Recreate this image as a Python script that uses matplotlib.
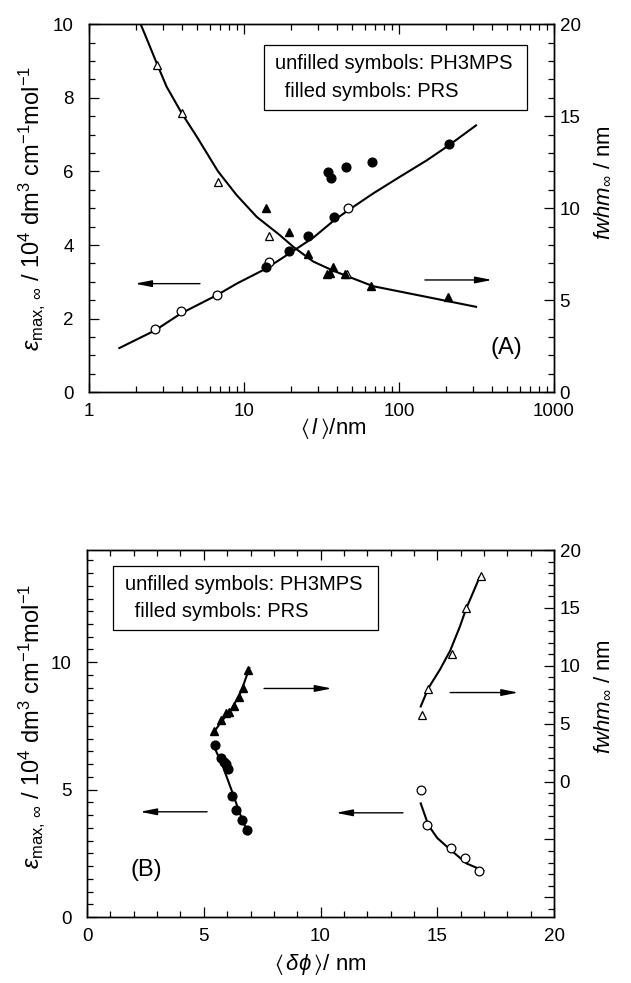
import matplotlib
matplotlib.use("Agg")
import matplotlib.pyplot as plt
from matplotlib.patches import Rectangle
from matplotlib.ticker import MultipleLocator, FixedLocator, NullFormatter, FixedFormatter

plt.rcParams['font.family'] = ['Liberation Sans', 'DejaVu Sans']
plt.rcParams['mathtext.fontset'] = 'custom'
plt.rcParams['mathtext.rm'] = 'Liberation Sans'
plt.rcParams['mathtext.it'] = 'Liberation Sans:italic'
plt.rcParams['mathtext.bf'] = 'Liberation Sans:bold'
plt.rcParams['mathtext.fallback'] = 'stix'

# ---------------- panel A: vs <l> ----------------
# PH3MPS (open symbols)
a_l_open_eps = [2.67, 3.92, 6.7, 14.5, 46.9]
a_eps_open = [1.72, 2.2, 2.65, 3.55, 5.0]
a_l_open_fw = [2.75, 3.98, 6.8, 14.5, 46.2]
a_fw_open = [17.8, 15.2, 11.4, 8.5, 6.4]
# PRS (filled symbols)
a_l_fill_eps = [13.9, 19.5, 25.9, 38.1, 34.8, 36.4, 45.5, 67, 210]
a_eps_fill = [3.4, 3.85, 4.25, 4.75, 5.97, 5.82, 6.12, 6.25, 6.75]
a_l_fill_fw = [13.9, 19.5, 25.9, 34.3, 36.0, 37.5, 44.7, 66, 207]
a_fw_fill = [10.0, 8.7, 7.5, 6.45, 6.5, 6.8, 6.4, 5.75, 5.15]
# fitted curves
a_fit_eps_l = [1.57, 2.67, 3.92, 6.7, 8.97, 13.9, 20.8, 28.0, 38.1, 46.9, 68.1, 101, 151, 210, 314]
a_fit_eps = [1.2, 1.68, 2.14, 2.64, 2.95, 3.36, 3.84, 4.2, 4.67, 4.94, 5.4, 5.85, 6.3, 6.71, 7.25]
a_fit_fw_l = [2.155, 2.36, 2.75, 3.17, 3.98, 4.95, 6.8, 8.97, 12.08, 17.07, 20.8, 28.0, 37.7, 68.1, 150.6, 314]
a_fit_fw = [20.0, 19.2, 17.83, 16.6, 15.14, 13.9, 12.0, 10.71, 9.53, 8.53, 7.9, 7.1, 6.6, 5.76, 5.18, 4.64]
# arrows (tail -> head), left-axis units
a_arrow_left = [(5.2, 2.95), (1.98, 2.95)]
a_arrow_right = [(147, 3.05), (398, 3.05)]

# ---------------- panel B: vs <dphi> ----------------
b_d_open_eps = [14.3, 14.57, 15.57, 16.19, 16.79]
b_eps_open = [4.98, 3.6, 2.7, 2.3, 1.8]
b_d_open_fw = [14.33, 14.62, 15.62, 16.23, 16.86]
b_fw_open = [5.78, 8.0, 11.0, 14.97, 17.76]
b_d_fill_eps = [5.48, 5.75, 5.85, 5.95, 6.05, 6.2, 6.4, 6.65, 6.87]
b_eps_fill = [6.75, 6.25, 6.1, 6.0, 5.8, 4.75, 4.2, 3.8, 3.4]
b_d_fill_fw = [6.91, 6.69, 6.52, 6.28, 6.06, 5.93, 5.75, 5.45]
b_fw_fill = [9.6, 8.1, 7.3, 6.5, 6.0, 5.9, 5.3, 4.4]
b_fit_eps_fill_d = [5.41, 5.8, 6.2, 6.55, 6.91]
b_fit_eps_fill = [6.75, 5.95, 4.95, 4.05, 3.25]
b_fit_fw_fill_d = [5.4, 5.8, 6.2, 6.6, 6.95]
b_fit_fw_fill = [4.2, 5.3, 6.3, 7.8, 9.8]
b_fit_eps_open_d = [14.29, 14.62, 15.0, 15.55, 16.26, 16.97]
b_fit_eps_open = [4.46, 3.6, 3.1, 2.65, 2.1, 1.82]
b_fit_fw_open_d = [14.29, 14.62, 15.12, 15.55, 15.97, 16.23, 16.8]
b_fit_fw_open = [6.49, 8.08, 9.7, 11.3, 13.4, 14.9, 17.6]
b_arrows = [((5.14, 4.13), (2.27, 4.13)),
            ((13.53, 4.09), (10.66, 4.09)),
            ((7.58, 8.97), (10.48, 8.97)),
            ((15.55, 8.81), (18.47, 8.81))]

legend_lines = ["unfilled symbols: PH3MPS", " filled symbols: PRS"]
ylab_left = (r"$\varepsilon_{\rm max,\,\infty}$ / 10$^4$ dm$^3$ cm$^{-1}$mol$^{-1}$")
ylab_right = r"$\it{fwhm}_{\infty}$ / nm"

fig = plt.figure(figsize=(6.31, 9.83), dpi=100)
TICK = 13.5
LAB = 16
MS = 6.3


def style(ax):
    ax.tick_params(which='both', direction='in', labelsize=TICK, width=0.9)
    ax.tick_params(which='major', length=7)
    ax.tick_params(which='minor', length=4)
    ax.tick_params(axis='x', pad=8)
    for s in ax.spines.values():
        s.set_linewidth(1.0)


def arrow(ax, tail, head):
    ax.annotate('', xy=head, xytext=tail,
                arrowprops=dict(arrowstyle='-|>,head_length=1.0,head_width=0.2',
                                color='k', lw=1.0, shrinkA=0, shrinkB=0))


def legend_box(ax, x0, y0, x1, y1, tx, ty):
    ax.add_patch(Rectangle((x0, y0), x1 - x0, y1 - y0, transform=ax.transAxes,
                           fill=False, lw=0.9, ec='k', zorder=5))
    ax.text(tx[0], ty[0], legend_lines[0], transform=ax.transAxes, fontsize=14.5, va='center')
    ax.text(tx[1], ty[1], legend_lines[1], transform=ax.transAxes, fontsize=14.5, va='center')


# ---- panel A ----
ax1 = fig.add_axes([0.141, 0.601, 0.737, 0.3744])
ax1.set_xscale('log')
ax1.set_xlim(1, 1000)
ax1.set_ylim(0, 10)
ax1.yaxis.set_major_locator(MultipleLocator(2))
ax1.yaxis.set_minor_locator(MultipleLocator(0.5))
ax1.xaxis.set_major_locator(FixedLocator([1, 10, 100, 1000]))
ax1.xaxis.set_major_formatter(FixedFormatter(['1', '10', '100', '1000']))
ax1.xaxis.set_minor_formatter(NullFormatter())
ax1.tick_params(top=True, which='both')
style(ax1)
ax1.tick_params(axis='y', pad=11)
ax1.plot(a_fit_eps_l, a_fit_eps, '-', color='k', lw=1.5)
ax1.plot(a_l_open_eps, a_eps_open, 'o', mfc='white', mec='k', ms=MS, mew=0.9)
ax1.plot(a_l_fill_eps, a_eps_fill, 'o', color='k', ms=MS)
ax1.set_ylabel(ylab_left, fontsize=17)
ax1.yaxis.set_label_coords(-0.09, 0.5)
ax1.set_xlabel(r"$\langle\,\it{l}\,\rangle$/nm", fontsize=LAB)
ax1.xaxis.set_label_coords(0.525, -0.065)
arrow(ax1, *a_arrow_left)
arrow(ax1, *a_arrow_right)
legend_box(ax1, 0.376, 0.766, 0.942, 0.943, (0.40, 0.409), (0.894, 0.818))
ax1.text(0.897, 0.12, "(A)", transform=ax1.transAxes, fontsize=17, ha='center', va='center')

ax1r = ax1.twinx()
ax1r.set_ylim(0, 20)
ax1r.yaxis.set_major_locator(MultipleLocator(5))
ax1r.yaxis.set_minor_locator(MultipleLocator(1))
style(ax1r)
ax1r.tick_params(axis='y', pad=4)
ax1r.plot(a_fit_fw_l, a_fit_fw, '-', color='k', lw=1.5)
ax1r.plot(a_l_open_fw, a_fw_open, '^', mfc='white', mec='k', ms=MS, mew=0.9)
ax1r.plot(a_l_fill_fw, a_fw_fill, '^', color='k', ms=MS)
ax1r.set_ylabel(ylab_right, fontsize=LAB)
ax1r.yaxis.set_label_coords(1.083, 0.57)

# ---- panel B ----
ax2 = fig.add_axes([0.138, 0.0671, 0.740, 0.3733])
ax2.set_xlim(0, 20)
ax2.set_ylim(0, 14.4)
ax2.xaxis.set_major_locator(MultipleLocator(5))
ax2.xaxis.set_minor_locator(MultipleLocator(1))
ax2.yaxis.set_major_locator(MultipleLocator(5))
ax2.yaxis.set_minor_locator(MultipleLocator(0.5))
ax2.tick_params(top=True, which='both')
style(ax2)
ax2.tick_params(axis='y', pad=11)
ax2.plot(b_fit_eps_fill_d, b_fit_eps_fill, '-', color='k', lw=1.5)
ax2.plot(b_fit_eps_open_d, b_fit_eps_open, '-', color='k', lw=1.5)
ax2.plot(b_d_open_eps, b_eps_open, 'o', mfc='white', mec='k', ms=MS, mew=0.9)
ax2.plot(b_d_fill_eps, b_eps_fill, 'o', color='k', ms=MS)
ax2.set_ylabel(ylab_left, fontsize=17)
ax2.yaxis.set_label_coords(-0.086, 0.52)
ax2.set_xlabel(r"$\langle\,\it{\delta\phi}\,\rangle$/ nm", fontsize=LAB)
ax2.xaxis.set_label_coords(0.5, -0.095)
for tail, head in b_arrows:
    arrow(ax2, tail, head)
legend_box(ax2, 0.056, 0.782, 0.622, 0.957, (0.081, 0.090), (0.907, 0.832))
ax2.text(0.126, 0.128, "(B)", transform=ax2.transAxes, fontsize=17, ha='center', va='center')

ax2r = ax2.twinx()
ax2r.set_ylim(-11.7, 20)
ax2r.yaxis.set_major_locator(MultipleLocator(5))
ax2r.yaxis.set_minor_locator(MultipleLocator(1))
ax2r.yaxis.set_major_formatter(plt.FuncFormatter(lambda v, p: f"{v:.0f}" if v >= 0 else ""))
style(ax2r)
ax2r.tick_params(axis='y', pad=4)
ax2r.plot(b_fit_fw_fill_d, b_fit_fw_fill, '-', color='k', lw=1.5)
ax2r.plot(b_fit_fw_open_d, b_fit_fw_open, '-', color='k', lw=1.5)
ax2r.plot(b_d_open_fw, b_fw_open, '^', mfc='white', mec='k', ms=MS, mew=0.9)
ax2r.plot(b_d_fill_fw, b_fw_fill, '^', color='k', ms=MS)
ax2r.set_ylabel(ylab_right, fontsize=LAB)
ax2r.yaxis.set_label_coords(1.083, 0.6)

fig.savefig("out.png", dpi=100)
